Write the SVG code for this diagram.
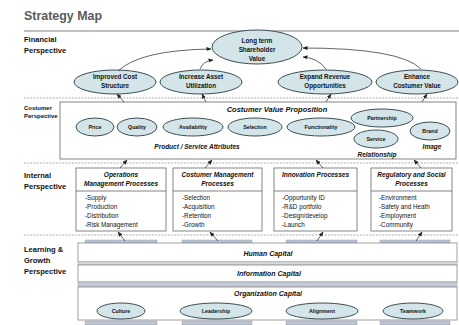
<svg xmlns="http://www.w3.org/2000/svg" width="459" height="325" viewBox="0 0 459 325">
<defs>
<marker id="ah" viewBox="0 0 10 10" refX="9" refY="5" markerWidth="5" markerHeight="5" orient="auto-start-reverse" markerUnits="userSpaceOnUse"><path d="M0,1 L10,5 L0,9 z" fill="#222"/></marker>
<style>
text{font-family:"Liberation Sans",Arial,sans-serif;fill:#111}
.title{font-size:13px;font-weight:bold;fill:#5a5a5a}
.lab{font-size:7.5px;font-weight:bold}
.labs{font-size:6px;font-weight:bold}
.el{fill:#d3e5e8;stroke:#3d4f55;stroke-width:1}
.et{font-size:6.3px;font-weight:bold;text-anchor:middle}
.es{font-size:5.3px;font-weight:bold;text-anchor:middle}
.bi{font-weight:bold;font-style:italic;text-anchor:middle}
.box{fill:#fff;stroke:#666;stroke-width:0.8}
.bul{font-size:6.3px}
.dash{stroke:#9a9a9a;stroke-width:0.8;stroke-dasharray:2,1.2;fill:none}
.con{stroke:#222;stroke-width:0.7;fill:none;marker-end:url(#ah)}
.strip{fill:#b9c5d6;stroke:#8893a3;stroke-width:0.4}
.row{fill:#fff;stroke:#888;stroke-width:0.8}
</style>
</defs>
<rect width="459" height="325" fill="#fff"/>
<g id="title">
<text class="title" x="24" y="20" textLength="78" lengthAdjust="spacingAndGlyphs">Strategy Map</text>
<line x1="24" y1="31" x2="459" y2="31" stroke="#aaa" stroke-width="1.5"/>
</g>
<g id="separators">
<line class="dash" x1="24" y1="98" x2="459" y2="98"/>
<line class="dash" x1="24" y1="163" x2="459" y2="163"/>
<line class="dash" x1="24" y1="235" x2="459" y2="235"/>
</g>
<g id="perspective-labels">
<text class="lab" x="24" y="42">Financial</text>
<text class="lab" x="24" y="53">Perspective</text>
<text class="labs" x="24" y="110">Costumer</text>
<text class="labs" x="24" y="118">Perspective</text>
<text class="lab" x="24" y="178">Internal</text>
<text class="lab" x="24" y="189">Perspective</text>
<text class="lab" x="24" y="252">Learning &amp;</text>
<text class="lab" x="24" y="263">Growth</text>
<text class="lab" x="24" y="274">Perspective</text>
</g>
<g id="financial">
<g id="long-term"><ellipse class="el" cx="257" cy="47" rx="45" ry="17"/>
<text class="et" x="257" y="43">Long term</text><text class="et" x="257" y="52">Shareholder</text><text class="et" x="257" y="61">Value</text></g>
<g id="improved-cost"><ellipse class="el" cx="115" cy="82" rx="41" ry="12"/>
<text class="et" x="115" y="79">Improved Cost</text><text class="et" x="115" y="88">Structure</text></g>
<g id="increase-asset"><ellipse class="el" cx="201" cy="82" rx="41" ry="12"/>
<text class="et" x="201" y="79">Increase Asset</text><text class="et" x="201" y="88">Utilization</text></g>
<g id="expand-revenue"><ellipse class="el" cx="325" cy="82" rx="47" ry="12"/>
<text class="et" x="325" y="79">Expand Revenue</text><text class="et" x="325" y="88">Opportunities</text></g>
<g id="enhance-value"><ellipse class="el" cx="417" cy="82" rx="41" ry="12"/>
<text class="et" x="417" y="79">Enhance</text><text class="et" x="417" y="88">Costumer Value</text></g>
</g>
<g id="customer">
<rect class="box" x="60" y="102" width="396" height="57"/>
<text class="bi" x="277" y="112" font-size="7.5">Costumer Value Proposition</text>
<g id="price"><ellipse class="el" cx="95" cy="127" rx="19" ry="9"/><text class="es" x="95" y="129">Price</text></g>
<g id="quality"><ellipse class="el" cx="137" cy="127" rx="20" ry="9"/><text class="es" x="137" y="129">Quality</text></g>
<g id="availability"><ellipse class="el" cx="193" cy="127" rx="30" ry="9"/><text class="es" x="193" y="129">Availability</text></g>
<g id="selection"><ellipse class="el" cx="255" cy="127" rx="27" ry="9"/><text class="es" x="255" y="129">Selection</text></g>
<g id="functionality"><ellipse class="el" cx="321" cy="127" rx="34" ry="9"/><text class="es" x="321" y="129">Functionality</text></g>
<g id="partnership"><ellipse class="el" cx="382" cy="118" rx="31" ry="9"/><text class="es" x="382" y="120">Partnership</text></g>
<g id="service"><ellipse class="el" cx="376" cy="139" rx="22" ry="9"/><text class="es" x="376" y="141">Service</text></g>
<g id="brand"><ellipse class="el" cx="430" cy="131" rx="20" ry="9"/><text class="es" x="430" y="133">Brand</text></g>
<text class="bi" x="197" y="149" font-size="6.5">Product / Service Attributes</text>
<text class="bi" x="377" y="157" font-size="6.5">Relationship</text>
<text class="bi" x="432" y="149" font-size="6.5">Image</text>
</g>
<g id="internal">
<g id="operations"><rect class="box" x="76" y="168" width="90" height="63"/><line x1="76" y1="191" x2="166" y2="191" stroke="#666" stroke-width="0.8"/>
<text class="bi" x="121" y="177" font-size="6.5">Operations</text><text class="bi" x="121" y="186" font-size="6.5">Management Processes</text>
<text class="bul" x="85" y="200">-Supply</text><text class="bul" x="85" y="209">-Production</text><text class="bul" x="85" y="218">-Distribution</text><text class="bul" x="85" y="227">-Risk Management</text></g>
<g id="customer-mgmt"><rect class="box" x="173" y="168" width="89" height="63"/><line x1="173" y1="191" x2="262" y2="191" stroke="#666" stroke-width="0.8"/>
<text class="bi" x="217.5" y="177" font-size="6.5">Costumer Management</text><text class="bi" x="217.5" y="186" font-size="6.5">Processes</text>
<text class="bul" x="182" y="200">-Selection</text><text class="bul" x="182" y="209">-Acquisition</text><text class="bul" x="182" y="218">-Retention</text><text class="bul" x="182" y="227">-Growth</text></g>
<g id="innovation"><rect class="box" x="274" y="168" width="83" height="63"/><line x1="274" y1="191" x2="357" y2="191" stroke="#666" stroke-width="0.8"/>
<text class="bi" x="315.5" y="177" font-size="6.5">Innovation Processes</text>
<text class="bul" x="282" y="200">-Opportunity ID</text><text class="bul" x="282" y="209">-R&amp;D portfolio</text><text class="bul" x="282" y="218">-Design/develop</text><text class="bul" x="282" y="227">-Launch</text></g>
<g id="regulatory"><rect class="box" x="371" y="168" width="81" height="63"/><line x1="371" y1="191" x2="452" y2="191" stroke="#666" stroke-width="0.8"/>
<text class="bi" x="411.5" y="177" font-size="6.5">Regulatory and Social</text><text class="bi" x="411.5" y="186" font-size="6.5">Processes</text>
<text class="bul" x="379" y="200">-Environment</text><text class="bul" x="379" y="209">-Safety and Heath</text><text class="bul" x="379" y="218">-Employment</text><text class="bul" x="379" y="227">-Community</text></g>
</g>
<g id="learning">
<g id="strips-top">
<rect class="strip" x="85" y="240" width="72" height="3"/><rect class="strip" x="182" y="240" width="70" height="3"/>
<rect class="strip" x="286" y="240" width="71" height="3"/><rect class="strip" x="380" y="240" width="70" height="3"/>
</g>
<g id="human-capital"><rect class="row" x="78" y="243" width="379" height="19"/>
<text class="bi" x="268" y="256" font-size="7">Human Capital</text></g>
<rect x="78" y="262" width="379" height="3" fill="#d8dbe0" stroke="#999" stroke-width="0.4"/>
<g id="information-capital"><rect class="row" x="78" y="265" width="379" height="17"/>
<text class="bi" x="269" y="276" font-size="7">Information Capital</text></g>
<rect x="78" y="282" width="379" height="5" fill="#c4cbd8" stroke="#999" stroke-width="0.4"/>
<g id="organization-capital"><rect class="row" x="78" y="287" width="379" height="33"/>
<text class="bi" x="268" y="296" font-size="7">Organization Capital</text></g>
<g id="culture"><ellipse class="el" cx="121" cy="311" rx="24" ry="8"/><text class="es" x="121" y="313">Culture</text></g>
<g id="leadership"><ellipse class="el" cx="216" cy="311" rx="36" ry="8"/><text class="es" x="216" y="313">Leadership</text></g>
<g id="alignment"><ellipse class="el" cx="322" cy="311" rx="36" ry="8"/><text class="es" x="322" y="313">Alignment</text></g>
<g id="teamwork"><ellipse class="el" cx="413" cy="311" rx="30" ry="8"/><text class="es" x="413" y="313">Teamwork</text></g>
<g id="strips-bottom">
<rect class="strip" x="85" y="321" width="72" height="4"/><rect class="strip" x="182" y="321" width="70" height="4"/>
<rect class="strip" x="286" y="321" width="71" height="4"/><rect class="strip" x="380" y="321" width="70" height="4"/>
</g>
</g>
<g id="connectors">
<path class="con" d="M118,71 Q140,50 211,49"/>
<path class="con" d="M200,69 Q203,61 213,60"/>
<path class="con" d="M326,69 Q318,58 303,57"/>
<path class="con" d="M421,69 Q400,48 303,48"/>
<path class="con" d="M124,102 L117,94"/>
<path class="con" d="M206,102 L202,94"/>
<path class="con" d="M326,102 L331,94"/>
<path class="con" d="M422,102 L427,94"/>
<path class="con" d="M120,168 L127,160"/>
<path class="con" d="M205,168 L212,160"/>
<path class="con" d="M323,168 L316,160"/>
<path class="con" d="M421,168 L414,160"/>
<path class="con" d="M125,241 L118,232"/>
<path class="con" d="M218,241 L210,232"/>
<path class="con" d="M317,241 L323,232"/>
<path class="con" d="M416,241 L422,232"/>
</g>
</svg>
